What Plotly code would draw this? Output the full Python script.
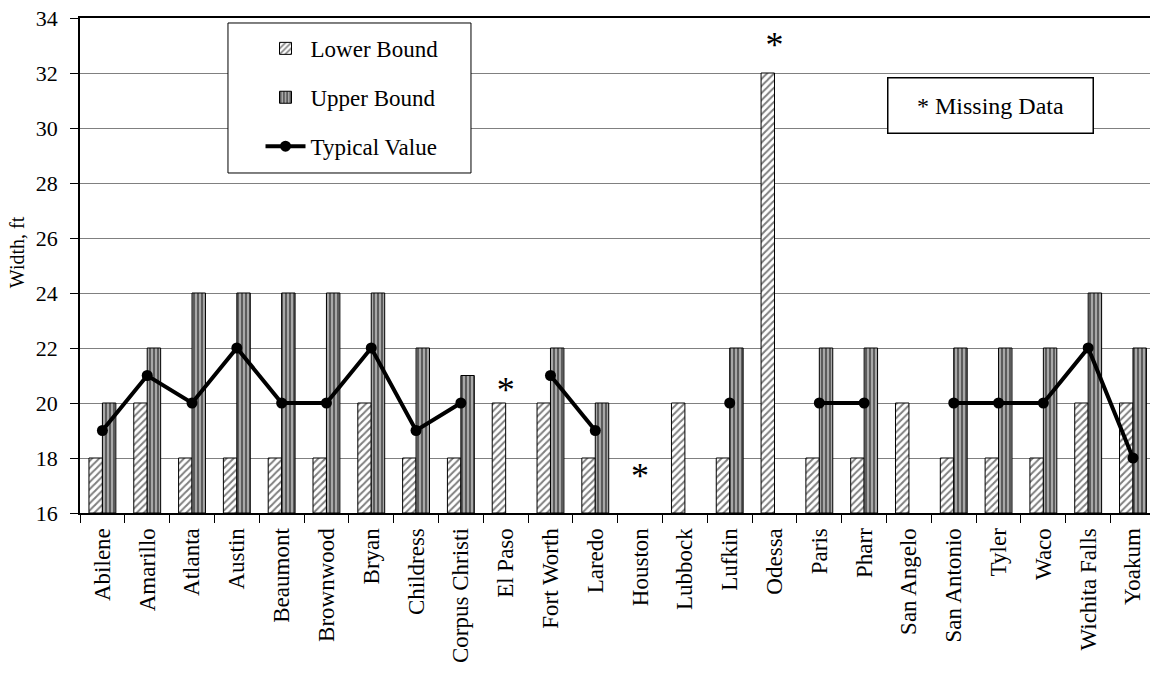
import plotly.graph_objects as go

districts = ["Abilene", "Amarillo", "Atlanta", "Austin", "Beaumont", "Brownwood", "Bryan",
             "Childress", "Corpus Christi", "El Paso", "Fort Worth", "Laredo", "Houston",
             "Lubbock", "Lufkin", "Odessa", "Paris", "Pharr", "San Angelo", "San Antonio",
             "Tyler", "Waco", "Wichita Falls", "Yoakum"]
lower_bound = [18, 20, 18, 18, 18, 18, 20, 18, 18, 20, 20, 18, None, 20, 18, 32, 18, 18, 20, 18, 18, 18, 20, 20]
upper_bound = [20, 22, 24, 24, 24, 24, 24, 22, 21, None, 22, 20, None, None, 22, None, 22, 22, None, 22, 22, 22, 24, 22]
typical_value = [19, 21, 20, 22, 20, 20, 22, 19, 20, None, 21, 19, None, None, 20, None, 20, 20, None, 20, 20, 20, 22, 18]
missing_districts = ["El Paso", "Houston", "Odessa"]
missing_marker_y = [20.35, 17.25, 32.9]
y_ticks = [16, 18, 20, 22, 24, 26, 28, 30, 32, 34]

FONT = "Liberation Serif, Times New Roman, serif"

fig = go.Figure()
fig.add_trace(go.Bar(
    x=districts, y=[None if v is None else v - 16 for v in lower_bound], base=16,
    name="Lower Bound", legendgroup="a",
    marker=dict(color="white", line=dict(color="black", width=1),
                pattern=dict(shape="/", fgcolor="black", bgcolor="white", size=5, solidity=0.4)),
))
fig.add_trace(go.Bar(
    x=districts, y=[None if v is None else v - 16 for v in upper_bound], base=16,
    name="Upper Bound", legendgroup="b",
    marker=dict(color="white", line=dict(color="black", width=1),
                pattern=dict(shape="|", fgcolor="black", bgcolor="#a8a8a8", size=4, solidity=0.45)),
))
fig.add_trace(go.Scatter(
    x=districts, y=typical_value, name="Typical Value", legendgroup="c",
    mode="lines+markers", connectgaps=False,
    line=dict(color="black", width=4), marker=dict(color="black", size=11),
))
fig.add_trace(go.Scatter(
    x=missing_districts, y=missing_marker_y, mode="text", text=["*"] * len(missing_districts),
    textposition="middle center", textfont=dict(family=FONT, size=36, color="black"),
    showlegend=False, hoverinfo="skip",
))

fig.add_shape(type="rect", xref="paper", yref="paper",
              x0=0.1383, x1=0.3654, y0=0.6869, y1=0.9899,
              line=dict(color="black", width=1), fillcolor="white", layer="above")

fig.add_annotation(xref="paper", yref="paper", x=0.8505, y=0.824, text="* Missing Data",
                   showarrow=False, font=dict(family=FONT, size=24, color="black"),
                   bordercolor="black", borderwidth=1.5, borderpad=4, bgcolor="white",
                   width=196, height=46, xanchor="center", yanchor="middle")

fig.add_annotation(xref="paper", yref="paper", x=0, xshift=-63, y=0.527, text="Width, ft",
                   textangle=-90, showarrow=False, font=dict(family=FONT, size=20, color="black"),
                   xanchor="center", yanchor="middle")

fig.update_layout(
    width=1150, height=675,
    margin=dict(l=80, r=0, t=18, b=162, autoexpand=False),
    paper_bgcolor="white", plot_bgcolor="white",
    barmode="group", bargap=0.4, bargroupgap=0,
    font=dict(family=FONT, size=22, color="black"),
    showlegend=True,
    legend=dict(x=0.1687, y=0.982, xanchor="left", yanchor="top",
                bgcolor="rgba(0,0,0,0)", borderwidth=0,
                font=dict(family=FONT, size=23, color="black"),
                traceorder="grouped", tracegroupgap=16, itemwidth=40),
    xaxis=dict(type="category", categoryorder="array", categoryarray=districts,
               range=[-0.5, 23.38], tickson="boundaries", ticks="outside", ticklen=8,
               tickcolor="black", tickangle=-90, showline=True, linecolor="black", linewidth=2,
               mirror=True, showgrid=False, tickfont=dict(family=FONT, size=23),
               ticklabelstandoff=4, automargin=False),
    yaxis=dict(range=[16, 34], tickvals=y_ticks, ticks="outside", ticklen=8, tickcolor="black",
               showline=True, linecolor="black", linewidth=1.5, showgrid=True,
               gridcolor="#808080", gridwidth=1, zeroline=False,
               tickfont=dict(family=FONT, size=22), ticklabelstandoff=8, automargin=False),
)

fig.write_html("out.html", config={"displayModeBar": False},
               post_script="document.body.style.margin='0';document.body.style.overflow='hidden';")
